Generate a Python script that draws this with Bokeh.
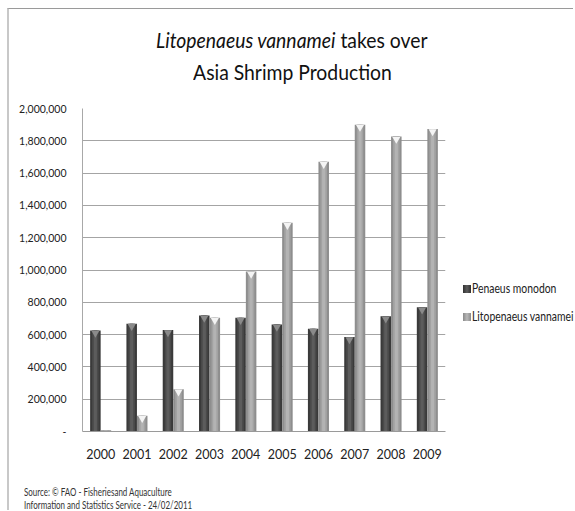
import math
from bokeh.plotting import figure
from bokeh.layouts import column, row
from bokeh.models import (FactorRange, Range1d, Div, NumeralTickFormatter, FixedTicker,
                          ColumnDataSource)
from bokeh.transform import dodge
from bokeh.embed import file_html
from bokeh.resources import INLINE

years = ["2000", "2001", "2002", "2003", "2004", "2005", "2006", "2007", "2008", "2009"]
monodon = [625000, 667000, 628000, 718000, 704000, 663000, 636000, 585000, 714000, 769000]
vannamei = [8000, 98000, 261000, 704000, 991000, 1292000, 1670000, 1900000, 1826000, 1873000]
y_ticks = [0, 200000, 400000, 600000, 800000, 1000000, 1200000, 1400000, 1600000, 1800000, 2000000]
series_names = ["Penaeus monodon", "Litopenaeus vannamei"]
title_italic = "Litopenaeus vannamei"
title_rest = "takes over"
title_line2 = "Asia Shrimp Production"
source_line1 = "Source: \u00a9 FAO - Fisheriesand Aquaculture"
source_line2 = "Information and Statistics Service - 24/02/2011"

FONT = "Lato"

src = ColumnDataSource(dict(
    year=years,
    monodon=monodon,
    vannamei=vannamei,
    mono_cap=[v if v > 50000 else math.nan for v in monodon],
    vann_cap=[v if v > 50000 else math.nan for v in vannamei],
))

# ---- main chart -------------------------------------------------------------
p = figure(width=441, height=372, x_range=FactorRange(factors=years, range_padding=0),
           y_range=Range1d(0, 2000000), output_backend="svg", toolbar_location=None,
           min_border_left=73, min_border_right=5, min_border_top=10, min_border_bottom=39,
           background_fill_color="white", border_fill_color="white", outline_line_color=None)
p.margin = 0

bw = 0.29
layers_m = [("#3a3a3a", 1.0), ("#4a4a4a", 0.62), ("#5c5c5c", 0.3)]
layers_v = [("#8e8e8e", 1.0), ("#a2a2a2", 0.62), ("#b3b3b3", 0.3)]
for c, f in layers_m:
    p.vbar(x=dodge("year", -bw / 2, range=p.x_range), top="monodon", width=bw * f,
           source=src, fill_color=c, line_color=None)
for c, f in layers_v:
    p.vbar(x=dodge("year", bw / 2, range=p.x_range), top="vannamei", width=bw * f,
           source=src, fill_color=c, line_color=None)

p.scatter(x=dodge("year", -bw / 2, range=p.x_range), y=dodge("mono_cap", -16000), source=src,
          marker="inverted_triangle", size=8, fill_color="#8a8a8a", line_color=None)
p.scatter(x=dodge("year", bw / 2, range=p.x_range), y=dodge("vann_cap", -16000), source=src,
          marker="inverted_triangle", size=8, fill_color="#f4f4f4", line_color=None)

p.xgrid.grid_line_color = None
p.ygrid.ticker = FixedTicker(ticks=y_ticks)
p.ygrid.grid_line_color = "#a4a4a4"
p.ygrid.grid_line_width = 1

p.yaxis.ticker = FixedTicker(ticks=y_ticks)
p.yaxis.formatter = NumeralTickFormatter(format="0,0")
p.yaxis.major_label_overrides = {0: "-"}
p.yaxis.axis_line_color = "#a8a8a8"
p.yaxis.major_tick_line_color = None
p.yaxis.minor_tick_line_color = None
p.yaxis.major_label_standoff = 10
p.yaxis.major_label_text_font = FONT
p.yaxis.major_label_text_font_size = "10.5px"
p.yaxis.major_label_text_color = "#222222"

p.xaxis.axis_line_color = "#9a9a9a"
p.xaxis.major_tick_line_color = None
p.xaxis.minor_tick_line_color = None
p.xaxis.major_label_standoff = 11
p.xaxis.major_label_text_font = FONT
p.xaxis.major_label_text_font_size = "12.5px"
p.xaxis.major_label_text_color = "#222222"

# ---- title ------------------------------------------------------------------
title_html = (
    '<div style="position:relative;width:564px;height:89px;font-family:Lato,sans-serif;'
    'color:#111111;">'
    '<div style="position:absolute;left:0;top:15px;width:566px;text-align:center;'
    'font-size:21.5px;line-height:32px;white-space:nowrap;">'
    '<span style="display:inline-block;transform:scaleX(0.9);">'
    f'<i>{title_italic}</i> {title_rest}</span></div>'
    '<div style="position:absolute;left:0;top:47px;width:566px;text-align:center;'
    'font-size:21.5px;line-height:32px;white-space:nowrap;">'
    f'<span style="display:inline-block;transform:scaleX(0.9);">{title_line2}</span></div>'
    '</div>'
)
title_div = Div(text=title_html, width=564, height=89, margin=0)

# ---- legend -----------------------------------------------------------------
sw = {
    0: "linear-gradient(90deg,#303030,#5c5c5c 50%,#303030)",
    1: "linear-gradient(90deg,#8a8a8a,#b8b8b8 50%,#8a8a8a)",
}
leg_parts = ['<div style="position:relative;width:123px;height:372px;font-family:Lato,sans-serif;'
             'color:#222222;">']
for i, name in enumerate(series_names):
    top = 191 + 28 * i
    leg_parts.append(
        f'<div style="position:absolute;left:13px;top:{top - 4}px;width:8px;height:8px;'
        f'background:{sw[i]};"></div>'
        f'<div style="position:absolute;left:22px;top:{top - 9}px;height:18px;line-height:18px;'
        'font-size:12.5px;white-space:nowrap;">'
        f'<span style="display:inline-block;transform:scaleX(0.83);transform-origin:left center;">'
        f'{name}</span></div>'
    )
leg_parts.append('</div>')
legend_div = Div(text="".join(leg_parts), width=123, height=372, margin=0)

# ---- source -----------------------------------------------------------------
source_html = (
    '<div style="position:relative;width:564px;height:40px;font-family:Lato,sans-serif;'
    'color:#333333;font-size:10.5px;white-space:nowrap;">'
    '<div style="position:absolute;left:15px;top:15px;line-height:14px;">'
    '<span style="display:inline-block;transform:scaleX(0.76);transform-origin:left center;">'
    f'{source_line1}</span></div>'
    '<div style="position:absolute;left:15px;top:28px;line-height:14px;">'
    '<span style="display:inline-block;transform:scaleX(0.76);transform-origin:left center;">'
    f'{source_line2}</span></div>'
    '</div>'
)
source_div = Div(text=source_html, width=564, height=40, margin=0)

layout = column(
    title_div,
    row(p, legend_div, spacing=0, margin=0),
    source_div,
    spacing=0,
    margin=(8, 0, 0, 7),
    styles={"border-left": "2px solid #c8c8c8", "border-top": "1px solid #9a9a9a",
            "background-color": "white"},
)

open("out.html", "w").write(file_html(layout, INLINE))
